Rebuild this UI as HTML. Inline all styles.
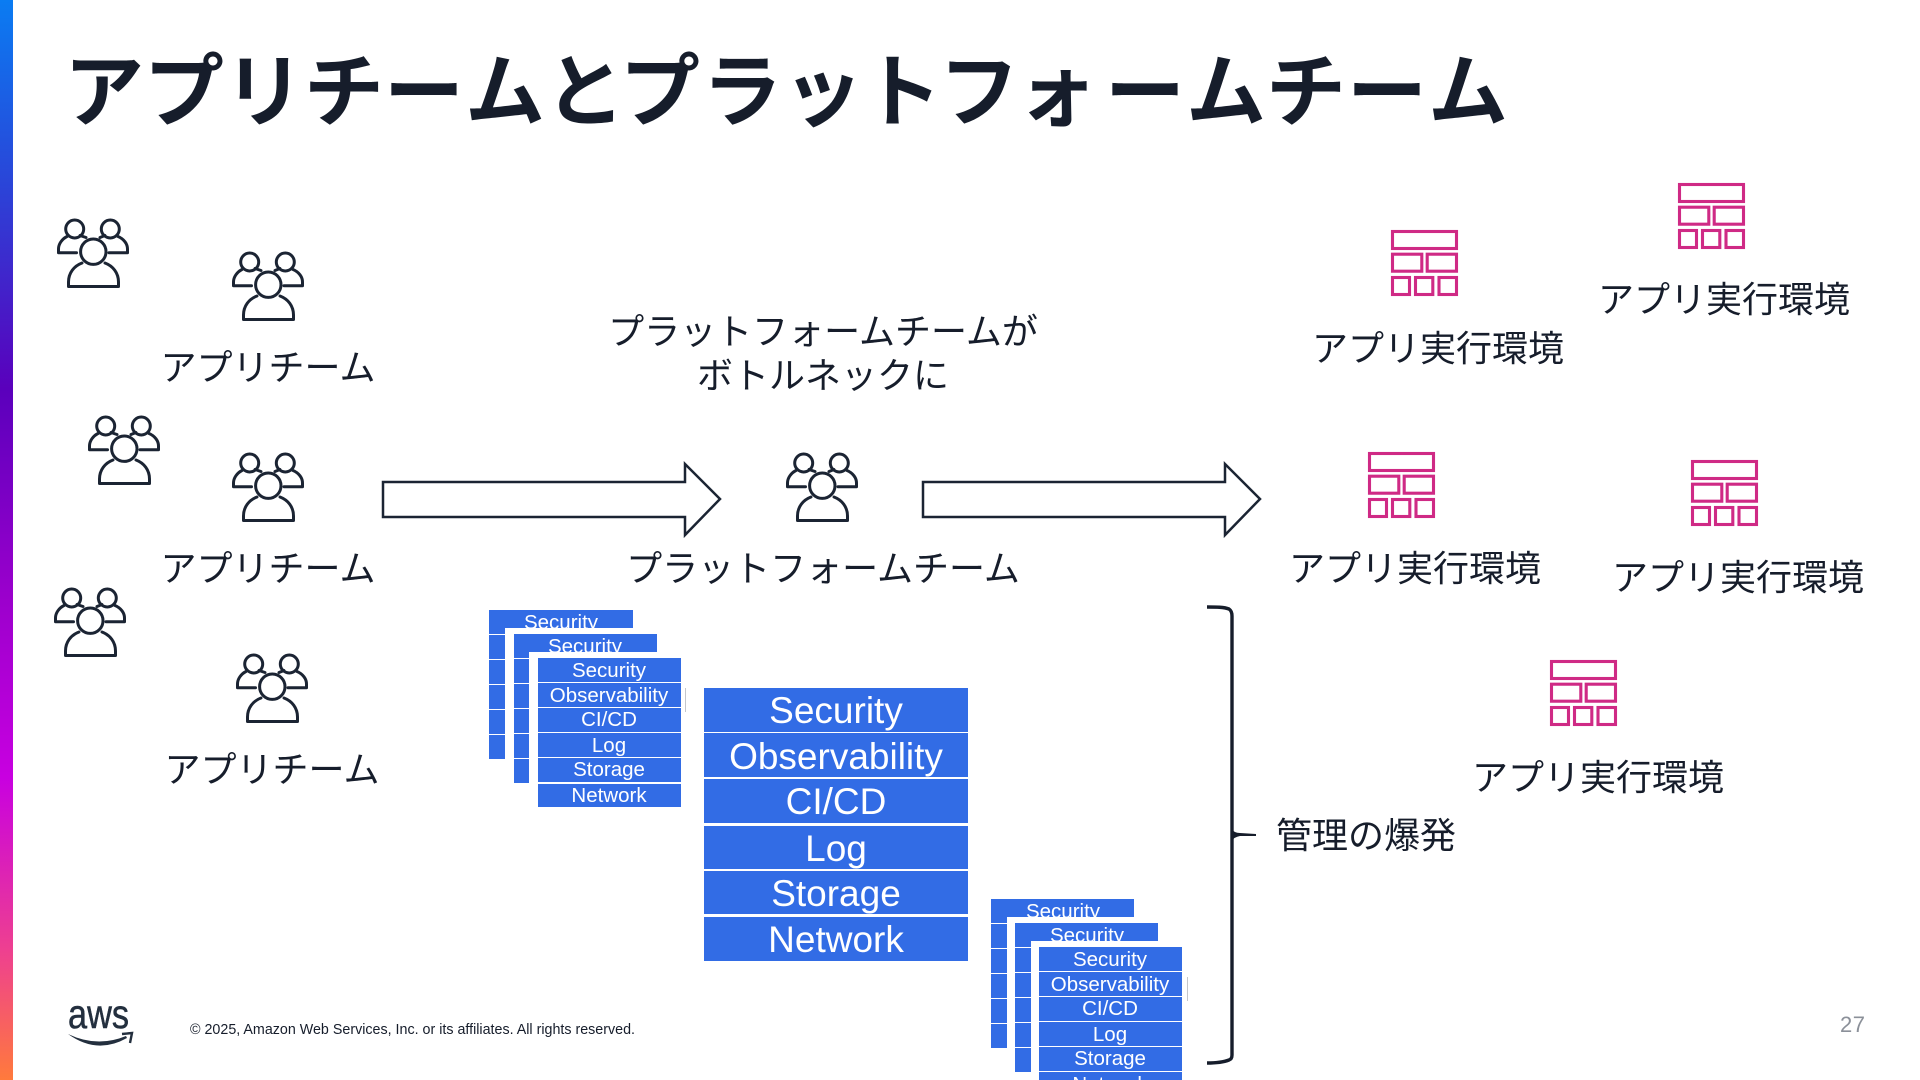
<!DOCTYPE html>
<html lang="ja"><head><meta charset="utf-8">
<style>
html,body{margin:0;padding:0;background:#fff;width:1920px;height:1080px;overflow:hidden}
svg{display:block}
.j{font-family:"Liberation Sans","Noto Sans CJK JP",sans-serif;font-size:36px;fill:#161d2b;text-anchor:middle}
.t{font-family:"Liberation Sans","Noto Sans CJK JP",sans-serif;font-size:80px;font-weight:700;fill:#161d2b}
.s{font-family:"Liberation Sans",sans-serif;font-size:20.5px;fill:#fff;text-anchor:middle}
.l{font-family:"Liberation Sans",sans-serif;font-size:37px;fill:#fff;text-anchor:middle}
.b{fill:#326ce5}
.w{fill:#fff}
</style></head><body>
<svg width="1920" height="1080" viewBox="0 0 1920 1080" xmlns="http://www.w3.org/2000/svg">
<defs>
<linearGradient id="g" x1="0" y1="0" x2="0" y2="1">
<stop offset="0" stop-color="#0a7cf2"/><stop offset=".17" stop-color="#2a45d8"/><stop offset=".36" stop-color="#5a00bc"/><stop offset=".55" stop-color="#9a00cc"/><stop offset=".72" stop-color="#c800e0"/><stop offset=".88" stop-color="#ee4090"/><stop offset="1" stop-color="#ff7a3c"/>
</linearGradient>
<g id="p" fill="none" stroke="#1b2433" stroke-width="3" stroke-linecap="round" stroke-linejoin="round">
<circle cx="17.7" cy="11" r="9"/><circle cx="53.3" cy="11" r="9"/><circle cx="36.3" cy="33.7" r="12.7"/>
<path d="M25 45C17 48 11.5 55 11.5 64V68.5H61.5V64C61.5 55 56 48 48 45"/>
<path d="M19.5 34.7H1.5V31C1.5 26 5 21 10 18.5M23 17.5L29 19.5"/>
<path d="M52 34.7H70.5V31C70.5 26 67 21 61 18.5M48 17.5L43 19.5"/>
</g>
<g id="e" fill="none" stroke="#cf2a85" stroke-width="3.1">
<rect x="1.5" y="1.5" width="64" height="17"/>
<rect x="1.5" y="24.2" width="29.3" height="17"/><rect x="36.2" y="24.2" width="29.3" height="17"/>
<rect x="1.5" y="47.5" width="17" height="17"/><rect x="24.5" y="47.5" width="17.3" height="17"/><rect x="48" y="47.5" width="17.5" height="17"/>
</g>
</defs>
<rect width="1920" height="1080" fill="#fff"/>
<rect x="0" y="0" width="13" height="1080" fill="url(#g)"/>
<text class="t" y="120" x="64 144 224 304 384 465 545 620 702 783 862 939 1017 1105 1186 1266 1347 1428">アプリチームとプラットフォームチーム</text>

<use href="#p" x="57" y="218"/><use href="#p" x="232" y="251"/><use href="#p" x="88" y="415"/><use href="#p" x="232" y="452"/><use href="#p" x="54" y="587"/><use href="#p" x="236" y="653"/><use href="#p" x="786" y="452"/>

<use href="#e" x="1391" y="230"/><use href="#e" x="1678" y="183"/><use href="#e" x="1368" y="452"/><use href="#e" x="1691" y="460"/><use href="#e" x="1550" y="660"/>

<text class="j" x="268" y="380">アプリチーム</text>
<text class="j" x="268" y="581">アプリチーム</text>
<text class="j" x="272" y="782">アプリチーム</text>
<text class="j" x="823" y="344">プラットフォームチームが</text>
<text class="j" x="823" y="388">ボトルネックに</text>
<text class="j" x="823" y="581">プラットフォームチーム</text>
<text class="j" x="1438" y="361">アプリ実行環境</text>
<text class="j" x="1724" y="312">アプリ実行環境</text>
<text class="j" x="1415" y="581">アプリ実行環境</text>
<text class="j" x="1738" y="590">アプリ実行環境</text>
<text class="j" x="1598" y="790">アプリ実行環境</text>
<text class="j" x="1366" y="848">管理の爆発</text>

<path d="M383 482H685V464L720 499L685 535V517H383Z" fill="#fff" stroke="#1b2433" stroke-width="2.5"/>
<path d="M923 482H1225V464L1260 499L1225 535V517H923Z" fill="#fff" stroke="#1b2433" stroke-width="2.5"/>

<!-- top small stacks -->
<g>
<rect class="b" x="489" y="610" width="144" height="24"/><rect class="b" x="489" y="635" width="144" height="24"/><rect class="b" x="489" y="660" width="144" height="24"/><rect class="b" x="489" y="685" width="144" height="24"/><rect class="b" x="489" y="710" width="144" height="24"/><rect class="b" x="489" y="735" width="144" height="24"/>
<text class="s" x="561" y="629">Security</text>
<rect class="w" x="505" y="628" width="152" height="160"/>
<rect class="b" x="514" y="634" width="143" height="24"/><rect class="b" x="514" y="659" width="143" height="24"/><rect class="b" x="514" y="684" width="143" height="24"/><rect class="b" x="514" y="709" width="143" height="24"/><rect class="b" x="514" y="734" width="143" height="24"/><rect class="b" x="514" y="759" width="143" height="24"/>
<text class="s" x="585" y="653">Security</text>
<rect class="w" x="529" y="652" width="152" height="160"/>
<rect class="b" x="538" y="658" width="143" height="24"/><rect class="b" x="538" y="683" width="143" height="24"/><rect class="b" x="538" y="708" width="143" height="24"/><rect class="b" x="538" y="733" width="143" height="24"/><rect class="b" x="538" y="758" width="143" height="24"/><rect class="b" x="538" y="784" width="143" height="23"/>
<text class="s" x="609" y="677">Security</text><text class="s" x="609" y="702">Observability</text><text class="s" x="609" y="726">CI/CD</text><text class="s" x="609" y="752">Log</text><text class="s" x="609" y="776">Storage</text><text class="s" x="609" y="802">Network</text>
<rect x="685" y="688" width="1" height="24" fill="#c4c6ca"/>
</g>

<!-- large stack -->
<rect class="b" x="704" y="688" width="264" height="44"/><rect class="b" x="704" y="733" width="264" height="44"/><rect class="b" x="704" y="779" width="264" height="44"/><rect class="b" x="704" y="826" width="264" height="43"/><rect class="b" x="704" y="871" width="264" height="43"/><rect class="b" x="704" y="917" width="264" height="44"/>
<text class="l" x="836" y="723">Security</text><text class="l" x="836" y="769">Observability</text><text class="l" x="836" y="814">CI/CD</text><text class="l" x="836" y="861">Log</text><text class="l" x="836" y="906">Storage</text><text class="l" x="836" y="952">Network</text>

<!-- bottom small stacks -->
<g>
<rect class="b" x="991" y="899" width="143" height="24"/><rect class="b" x="991" y="924" width="143" height="24"/><rect class="b" x="991" y="949" width="143" height="24"/><rect class="b" x="991" y="974" width="143" height="24"/><rect class="b" x="991" y="999" width="143" height="24"/><rect class="b" x="991" y="1024" width="143" height="24"/>
<text class="s" x="1063" y="918">Security</text>
<rect class="w" x="1007" y="917" width="152" height="160"/>
<rect class="b" x="1015" y="923" width="143" height="24"/><rect class="b" x="1015" y="948" width="143" height="24"/><rect class="b" x="1015" y="973" width="143" height="24"/><rect class="b" x="1015" y="998" width="143" height="24"/><rect class="b" x="1015" y="1023" width="143" height="24"/><rect class="b" x="1015" y="1048" width="143" height="24"/>
<text class="s" x="1087" y="942">Security</text>
<rect class="w" x="1031" y="941" width="152" height="139"/>
<rect class="b" x="1039" y="947" width="143" height="24"/><rect class="b" x="1039" y="972" width="143" height="24"/><rect class="b" x="1039" y="997" width="143" height="24"/><rect class="b" x="1039" y="1022" width="143" height="24"/><rect class="b" x="1039" y="1047" width="143" height="24"/><rect class="b" x="1039" y="1072" width="143" height="24"/>
<text class="s" x="1110" y="966">Security</text><text class="s" x="1110" y="991">Observability</text><text class="s" x="1110" y="1015">CI/CD</text><text class="s" x="1110" y="1041">Log</text><text class="s" x="1110" y="1065">Storage</text><text class="s" x="1110" y="1091">Network</text>
<rect x="1187" y="977" width="1" height="24" fill="#c4c6ca"/>
</g>

<!-- brace -->
<path d="M1207 607C1216 607 1224 607 1229 609Q1232 611 1232 616V1055Q1232 1059 1229 1060C1224 1062 1216 1063 1207 1063" fill="none" stroke="#161d2b" stroke-width="3.4"/>
<path d="M1232 829Q1234 833 1240 833L1256 834V836L1240 836Q1234 837 1232 841Z" fill="#161d2b"/>

<!-- footer -->
<text x="68" y="1028" font-family="Liberation Sans,sans-serif" font-size="41" fill="#232f3e" stroke="#232f3e" stroke-width=".5" textLength="61" lengthAdjust="spacingAndGlyphs">aws</text>
<path d="M68 1034Q97 1055 127 1038L126 1036Q97 1048 68 1034Z" fill="#232f3e"/>
<path d="M122 1034L132 1033L130 1043" fill="none" stroke="#232f3e" stroke-width="2.4"/>
<text x="190" y="1034" font-family="Liberation Sans,sans-serif" font-size="14.5" fill="#161d2b" textLength="445" lengthAdjust="spacingAndGlyphs">© 2025, Amazon Web Services, Inc. or its affiliates. All rights reserved.</text>
<text x="1840" y="1032" font-family="Liberation Sans,sans-serif" font-size="22" fill="#8b9099" textLength="25">27</text>
</svg>
</body></html>
